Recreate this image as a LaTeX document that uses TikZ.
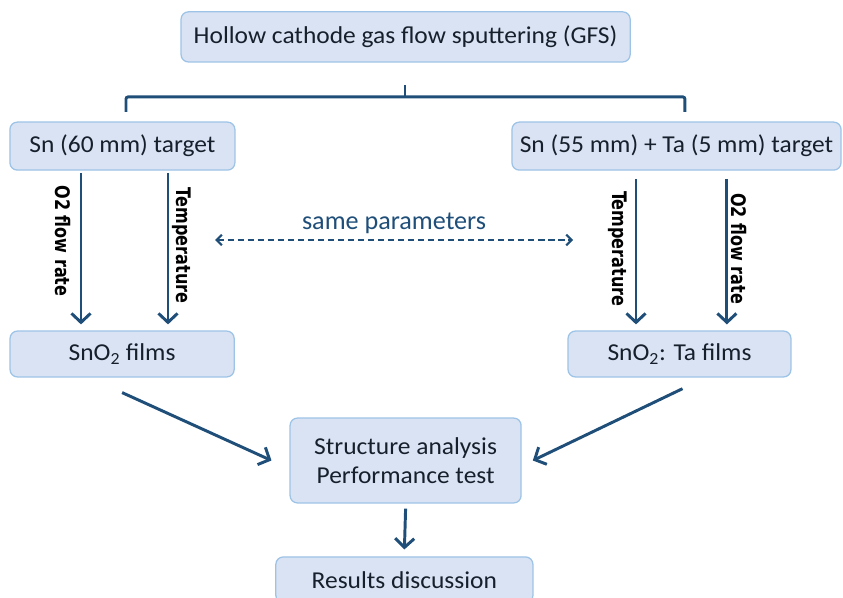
\documentclass[tikz,border=0pt]{standalone}
\usepackage{fontspec}
\setmainfont{Carlito}[FakeStretch=1.05]
\newfontfamily\calfont{Carlito}
\newfontfamily\labfont{DejaVu Sans}[FakeStretch=0.8]
\usetikzlibrary{arrows.meta}
\definecolor{boxfill}{HTML}{DAE3F3}
\definecolor{boxline}{HTML}{9DC3E6}
\definecolor{arrowc}{HTML}{1F4E79}
\definecolor{txtc}{HTML}{16202C}
\tikzset{
  >={Straight Barb[length=8.5pt,width=18pt]},
  box/.style={draw=boxline, line width=1.2pt, fill=boxfill, rounded corners=7pt, align=center,
              text=txtc, font=\fontsize{23}{27}\selectfont, minimum width=#1,
              minimum height=1.6cm, inner sep=2pt},
  box/.default=7.5cm,
  flow/.style={->, line width=2.8pt, draw=arrowc},
  same/.style={{Straight Barb[length=5pt,width=10pt]}-{Straight Barb[length=5pt,width=10pt]},
               line width=2pt, draw=arrowc, dash pattern=on 6pt off 3.5pt},
  brk/.style={line width=2.8pt, draw=arrowc},
  lab/.style={font=\labfont\bfseries\fontsize{19}{22}\selectfont, text=black, inner sep=2pt}
}

\begin{document}
\begin{tikzpicture}
\useasboundingbox (0,0) rectangle (28.1,-19.933);
\node[box=14.97cm, minimum height=1.67cm] (gfs) at (13.52,-1.23) {Hollow cathode gas flow sputtering (GFS)};
\node[box=7.5cm] (sn) at (4.08,-4.87) {Sn (60 mm) target};
\node[box=10.97cm] (snta) at (22.55,-4.87) {Sn (55 mm) + Ta (5 mm) target};
\node[box=7.47cm, minimum height=1.53cm] (sno) at (4.07,-11.8) {SnO\textsubscript{2} films};
\node[box=7.43cm, minimum height=1.53cm] (snota) at (22.65,-11.8) {SnO\textsubscript{2}: Ta films};
\node[box=7.7cm, minimum height=2.83cm] (ana) at (13.52,-15.35) {Structure analysis\\ Performance test};
\node[box=8.57cm, minimum height=1.53cm] (res) at (13.48,-19.33) {Results discussion};
% bracket under the top box
\coordinate (bl) at (4.2,-3.73);
\coordinate (br) at (22.83,-3.73);
\coordinate (bt) at (13.5,-2.83);
\draw[brk, rounded corners=2pt] (bl) -- (4.2,-3.23) -- (22.83,-3.23) -- (br);
\draw[brk] (bt |- 0,-3.23) -- (bt);
% parameter arrows
\draw[flow] ([xshift=-1.38cm,yshift=-0.07cm]sn.south) -- ([xshift=-1.38cm,yshift=0.2cm]sn.south |- sno.north)
  node[pos=.45, sloped, below=6pt, lab]{O2 flow rate};
\draw[flow] ([xshift=1.52cm,yshift=-0.07cm]sn.south) -- ([xshift=1.52cm,yshift=0.2cm]sn.south |- sno.north)
  node[pos=.48, sloped, above=1pt, lab]{Temperature};
\draw[flow] ([xshift=-1.35cm,yshift=-0.27cm]snta.south) -- ([xshift=-1.35cm,yshift=0.2cm]snta.south |- snota.north)
  node[pos=.48, sloped, below=5pt, lab]{Temperature};
\draw[flow] ([xshift=1.68cm,yshift=-0.27cm]snta.south) -- ([xshift=1.68cm,yshift=0.2cm]snta.south |- snota.north)
  node[pos=.48, sloped, above=1pt, lab]{O2 flow rate};
\coordinate (pl) at (7.17,-8.0);
\coordinate (pr) at (19.1,-8.0);
\draw[same] (pl) -- node[above=2pt, text=arrowc, font=\calfont\fontsize{24.8}{28}\selectfont]{same parameters} (pr);
% results
\draw[flow] ([yshift=-0.5cm]sno.south) -- ([xshift=-0.6cm]ana.west);
\draw[flow] ([xshift=0.1cm,yshift=-0.37cm]snota.south) -- ([xshift=0.37cm]ana.east);
\draw[flow] ([yshift=-0.17cm]ana.south) -- ([yshift=0.23cm]res.north);
\end{tikzpicture}
\end{document}
